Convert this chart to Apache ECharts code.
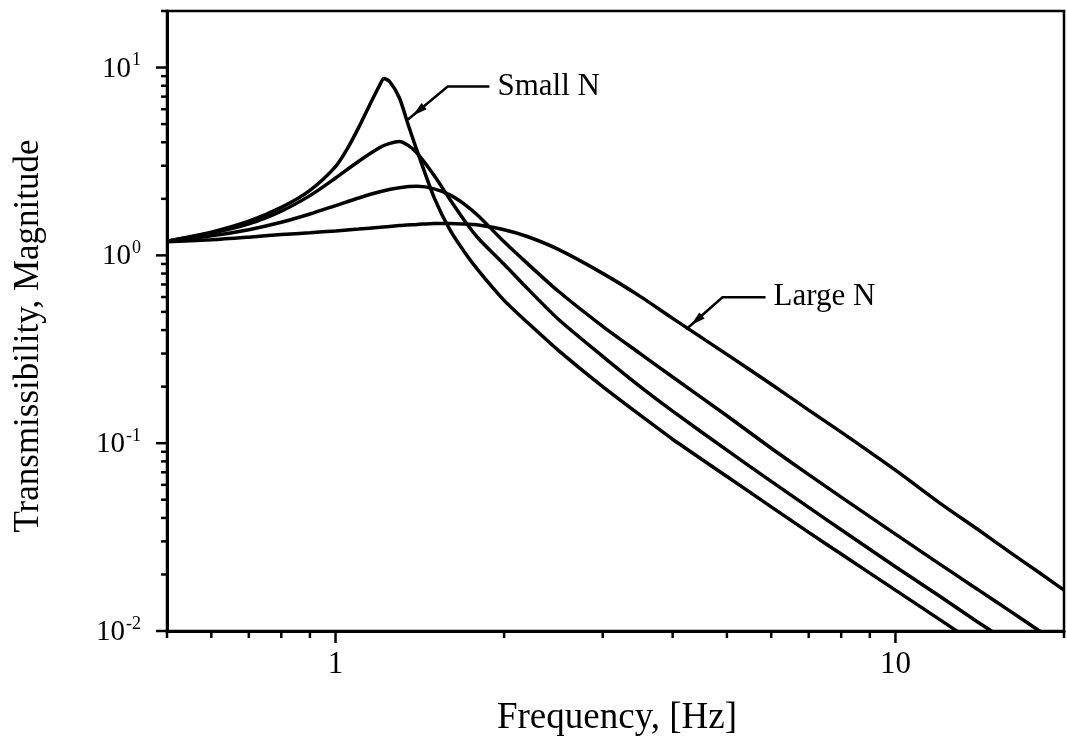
<!DOCTYPE html>
<html>
<head>
<meta charset="utf-8">
<script src="https://cdn.jsdelivr.net/npm/echarts@6/dist/echarts.min.js"></script>
<style>
  html, body { margin: 0; padding: 0; background: #fff; }
  #chart { width: 1067px; height: 751px; }
</style>
</head>
<body>
<div id="chart"></div>
<script>
// Transmissibility magnitude vs. frequency, four curves from small N to large N
const freqA = [0.5, 0.6, 0.7, 0.8, 0.9, 1.0, 1.05, 1.1, 1.15, 1.2, 1.22, 1.25, 1.3, 1.35, 1.4, 1.5, 1.6, 1.7, 1.8, 2.0, 2.2, 2.5, 3, 3.5, 4, 5, 6, 7, 8, 10, 12, 13];
const magA  = [1.19, 1.33, 1.52, 1.80, 2.22, 2.97, 3.7, 4.8, 6.3, 8.1, 8.75, 8.4, 6.9, 4.9, 3.57, 2.03, 1.37, 1.04, 0.83, 0.576, 0.44, 0.312, 0.2, 0.141, 0.105, 0.0665, 0.0458, 0.0335, 0.0257, 0.0165, 0.0115, 0.0098];

const freqB = [0.5, 0.6, 0.7, 0.8, 0.9, 1.0, 1.1, 1.2, 1.25, 1.3, 1.35, 1.4, 1.5, 1.6, 1.7, 1.8, 2.0, 2.2, 2.5, 3, 3.5, 4, 5, 6, 7, 8, 10, 12, 14, 15];
const magB  = [1.19, 1.31, 1.47, 1.72, 2.08, 2.58, 3.17, 3.75, 3.95, 4.04, 3.84, 3.49, 2.66, 1.99, 1.53, 1.23, 0.896, 0.667, 0.457, 0.29, 0.200, 0.148, 0.0918, 0.0626, 0.0455, 0.0346, 0.022, 0.0153, 0.0112, 0.0098];

const freqC = [0.5, 0.6, 0.7, 0.8, 0.9, 1.0, 1.1, 1.2, 1.3, 1.4, 1.5, 1.6, 1.7, 1.8, 2.0, 2.2, 2.5, 3, 3.5, 4, 5, 6, 7, 8, 10, 12, 14, 16, 18, 18.4];
const magC  = [1.19, 1.27, 1.37, 1.50, 1.66, 1.84, 2.02, 2.18, 2.29, 2.33, 2.26, 2.10, 1.87, 1.62, 1.18, 0.906, 0.644, 0.419, 0.30, 0.225, 0.14, 0.094, 0.068, 0.0516, 0.0328, 0.0227, 0.0167, 0.0128, 0.0101, 0.0097];

const freqD = [0.5, 0.6, 0.7, 0.8, 0.9, 1.0, 1.1, 1.2, 1.3, 1.4, 1.5, 1.6, 1.7, 1.8, 2.0, 2.2, 2.5, 3, 3.5, 4, 5, 6, 7, 8, 10, 12, 14, 16, 18, 20];
const magD  = [1.18, 1.21, 1.25, 1.29, 1.32, 1.35, 1.38, 1.41, 1.44, 1.46, 1.48, 1.48, 1.47, 1.45, 1.37, 1.26, 1.076, 0.802, 0.605, 0.462, 0.297, 0.206, 0.150, 0.1145, 0.0718, 0.048, 0.0349, 0.0263, 0.0206, 0.0165];

// Axis ranges and tick positions
const xRange = [0.5, 20];
const yRange = [0.01, 20];
const xMajorTicks = [1, 10];
const xMinorTicks = [0.5, 0.6, 0.7, 0.8, 0.9, 2, 3, 4, 5, 6, 7, 8, 9, 20];
const yMajorTicks = [0.01, 0.1, 1, 10];
const yMinorTicks = [0.02, 0.03, 0.04, 0.05, 0.06, 0.07, 0.08, 0.09,
                     0.2, 0.3, 0.4, 0.5, 0.6, 0.7, 0.8, 0.9,
                     2, 3, 4, 5, 6, 7, 8, 9, 20];

// Annotation anchors in data coordinates: [arrow tip, elbow, end of horizontal leader]
const smallNLeader = [[1.347, 5.29], [1.586, 7.92], [1.883, 7.92]];
const largeNLeader = [[4.23, 0.404], [4.91, 0.598], [5.86, 0.598]];
const smallNText = 'Small N';
const largeNText = 'Large N';

const SERIF = '"Liberation Serif", "Times New Roman", serif';

const chart = echarts.init(document.getElementById('chart'), null, { renderer: 'canvas' });

function pairs(fs, ms) { return fs.map((f, i) => [f, ms[i]]); }

function isDecade(v) {
  const l = Math.log10(v);
  return Math.abs(l - Math.round(l)) < 1e-6;
}

function curve(name, fs, ms) {
  return {
    name, type: 'line', data: pairs(fs, ms),
    showSymbol: false, smooth: 0.25, clip: true, silent: true,
    lineStyle: { color: '#000', width: 3.5 }, z: 3
  };
}

const xTickData = xMajorTicks.map(v => [v, yRange[0], 12, 0])
  .concat(xMinorTicks.map(v => [v, yRange[0], 7, 0]));
const yTickData = yMajorTicks.map(v => [xRange[0], v, 11, 1])
  .concat(yMinorTicks.map(v => [xRange[0], v, 6, 1]));

function renderTick(params, api) {
  const p = api.coord([api.value(0), api.value(1)]);
  const len = api.value(2);
  const vertical = api.value(3) === 0;
  return {
    type: 'line',
    shape: vertical
      ? { x1: p[0], y1: p[1], x2: p[0], y2: p[1] + len }
      : { x1: p[0], y1: p[1], x2: p[0] - len, y2: p[1] },
    style: { stroke: '#000', lineWidth: 2.5 }
  };
}

chart.setOption({
  animation: false,
  backgroundColor: '#fff',
  grid: {
    left: 167, top: 11, right: -1, bottom: 120,
    show: true, borderColor: '#000', borderWidth: 2.5, backgroundColor: 'transparent'
  },
  xAxis: {
    type: 'log', logBase: 10, min: xRange[0], max: xRange[1],
    axisLine: { show: true, onZero: false, lineStyle: { color: '#000', width: 3 } },
    axisTick: { show: false },
    splitLine: { show: false },
    minorTick: { show: false },
    axisLabel: {
      margin: 18, color: '#000', fontFamily: SERIF, fontSize: 31,
      showMinLabel: true, showMaxLabel: true,
      formatter: v => isDecade(v) ? String(Math.round(v)) : ''
    }
  },
  yAxis: {
    type: 'log', logBase: 10, min: yRange[0], max: yRange[1],
    axisLine: { show: true, onZero: false, lineStyle: { color: '#000', width: 3 } },
    axisTick: { show: false },
    splitLine: { show: false },
    minorTick: { show: false },
    axisLabel: {
      margin: 26, color: '#000',
      formatter: v => isDecade(v) ? '{b|10}{s|' + Math.round(Math.log10(v)) + '}' : '',
      rich: {
        b: { fontFamily: SERIF, fontSize: 29, color: '#000', verticalAlign: 'bottom' },
        s: { fontFamily: SERIF, fontSize: 18, color: '#000', verticalAlign: 'bottom', padding: [0, 0, 14, 1] }
      }
    }
  },
  series: [
    curve('Small N', freqA, magA),
    curve('N2', freqB, magB),
    curve('N3', freqC, magC),
    curve('Large N', freqD, magD),
    { type: 'custom', name: 'xTicks', data: xTickData, renderItem: renderTick, clip: false, silent: true, z: 5 },
    { type: 'custom', name: 'yTicks', data: yTickData, renderItem: renderTick, clip: false, silent: true, z: 5 }
  ]
});

// Axis titles and leader annotations
function leader(points, label) {
  const px = points.map(p => chart.convertToPixel({ gridIndex: 0 }, p));
  const tip = px[0], elbow = px[1], end = px[2];
  const dx = tip[0] - elbow[0], dy = tip[1] - elbow[1];
  const d = Math.hypot(dx, dy);
  const ux = dx / d, uy = dy / d;
  const ax = tip[0] - ux * 6, ay = tip[1] - uy * 6;
  const bx = ax - ux * 15, by = ay - uy * 15;
  const nx = -uy * 4, ny = ux * 4;
  return [
    { type: 'polyline', shape: { points: [end, elbow, tip] }, style: { stroke: '#000', lineWidth: 2.5, fill: null }, z: 10 },
    { type: 'polygon', shape: { points: [[ax, ay], [bx + nx, by + ny], [bx - nx, by - ny]] }, style: { fill: '#000' }, z: 10 },
    { type: 'text', x: end[0] + 8, y: end[1], style: { text: label, font: '31px ' + SERIF, fill: '#000', textAlign: 'left', textVerticalAlign: 'middle' }, z: 10 }
  ];
}

chart.setOption({
  graphic: [
    { type: 'text', x: 617, y: 718, style: { text: 'Frequency, [Hz]', font: '37px ' + SERIF, fill: '#000', textAlign: 'center', textVerticalAlign: 'middle' } },
    { type: 'text', x: 29, y: 336, rotation: Math.PI / 2, style: { text: 'Transmissibility, Magnitude', font: '35px ' + SERIF, fill: '#000', textAlign: 'center', textVerticalAlign: 'middle' } }
  ].concat(leader(smallNLeader, smallNText), leader(largeNLeader, largeNText))
});
</script>
</body>
</html>
